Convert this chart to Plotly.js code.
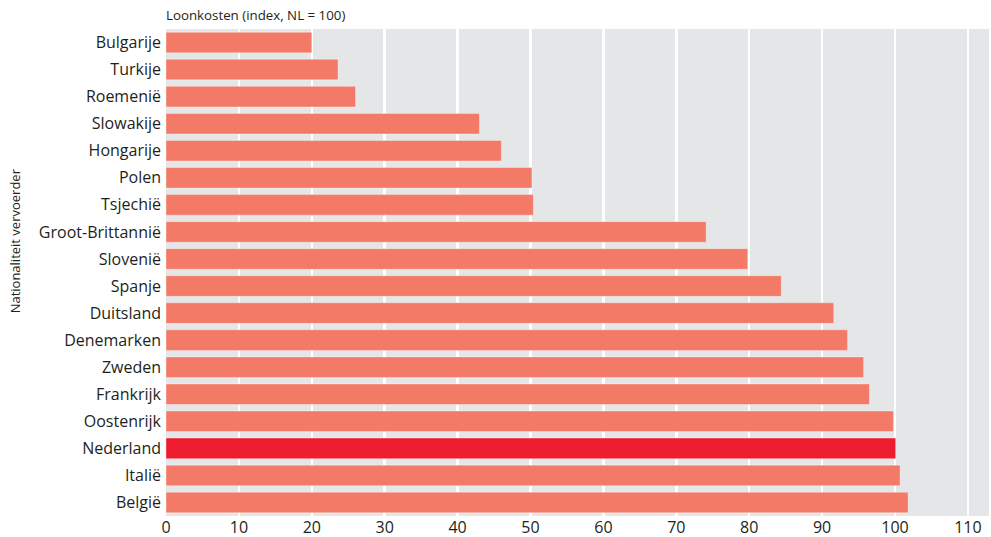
<!DOCTYPE html>
<html>
<head>
<meta charset="utf-8">
<script src="https://cdn.plot.ly/plotly-3.0.1.min.js"></script>
<style>html,body{margin:0;padding:0;background:#fff;}#chart{width:991px;height:537px;}</style>
</head>
<body>
<div id="chart"></div>
<script>
const countries = ["Bulgarije","Turkije","Roemenië","Slowakije","Hongarije","Polen","Tsjechië","Groot-Brittannië","Slovenië","Spanje","Duitsland","Denemarken","Zweden","Frankrijk","Oostenrijk","Nederland","Italië","België"];
const loonkosten = [20.0, 23.6, 26.0, 43.0, 46.0, 50.2, 50.4, 74.1, 79.8, 84.4, 91.6, 93.5, 95.7, 96.5, 99.8, 100.1, 100.7, 101.8];
const highlight = "Nederland";
const xTicks = [0,10,20,30,40,50,60,70,80,90,100,110];

const colors = countries.map(c => c === highlight ? "#ED1C2E" : "#F27A66");

const trace = {
  type: "bar",
  orientation: "h",
  y: countries,
  x: loonkosten,
  marker: {color: colors, line: {color: "rgba(255,255,255,0.35)", width: 1}},
  hoverinfo: "x+y"
};

const layout = {
  width: 991, height: 537,
  margin: {l: 166, r: 2, t: 29, b: 21, pad: 0},
  paper_bgcolor: "#ffffff",
  plot_bgcolor: "#E5E6E8",
  bargap: 0.24,
  font: {family: "Open Sans, Noto Sans, sans-serif", color: "#231F20", size: 16},
  showlegend: false,
  title: {
    text: "Loonkosten (index, NL = 100)",
    font: {size: 13.3, color: "#231F20"},
    xref: "container", yref: "container",
    x: 166/991, xanchor: "left",
    y: 1 - 15/537, yanchor: "middle"
  },
  xaxis: {
    range: [0, 112.9],
    tickvals: xTicks,
    ticktext: xTicks.map(String),
    showgrid: true, gridcolor: "#ffffff", gridwidth: 2.5,
    zeroline: false, showline: false, ticks: "",
    tickfont: {size: 16},
    fixedrange: true
  },
  yaxis: {
    type: "category",
    autorange: "reversed",
    showgrid: false, zeroline: false, showline: false, ticks: "",
    ticklabelstandoff: 4,
    tickfont: {size: 16},
    fixedrange: true
  },
  annotations: [{
    text: "Nationaliteit vervoerder",
    textangle: -90,
    xref: "paper", yref: "paper",
    x: -(166-15)/825, y: 1 - (241-29)/487,
    xanchor: "center", yanchor: "middle",
    showarrow: false,
    font: {size: 13, color: "#231F20"}
  }]
};

Plotly.newPlot("chart", [trace], layout, {displayModeBar: false, staticPlot: true});
</script>
</body>
</html>
